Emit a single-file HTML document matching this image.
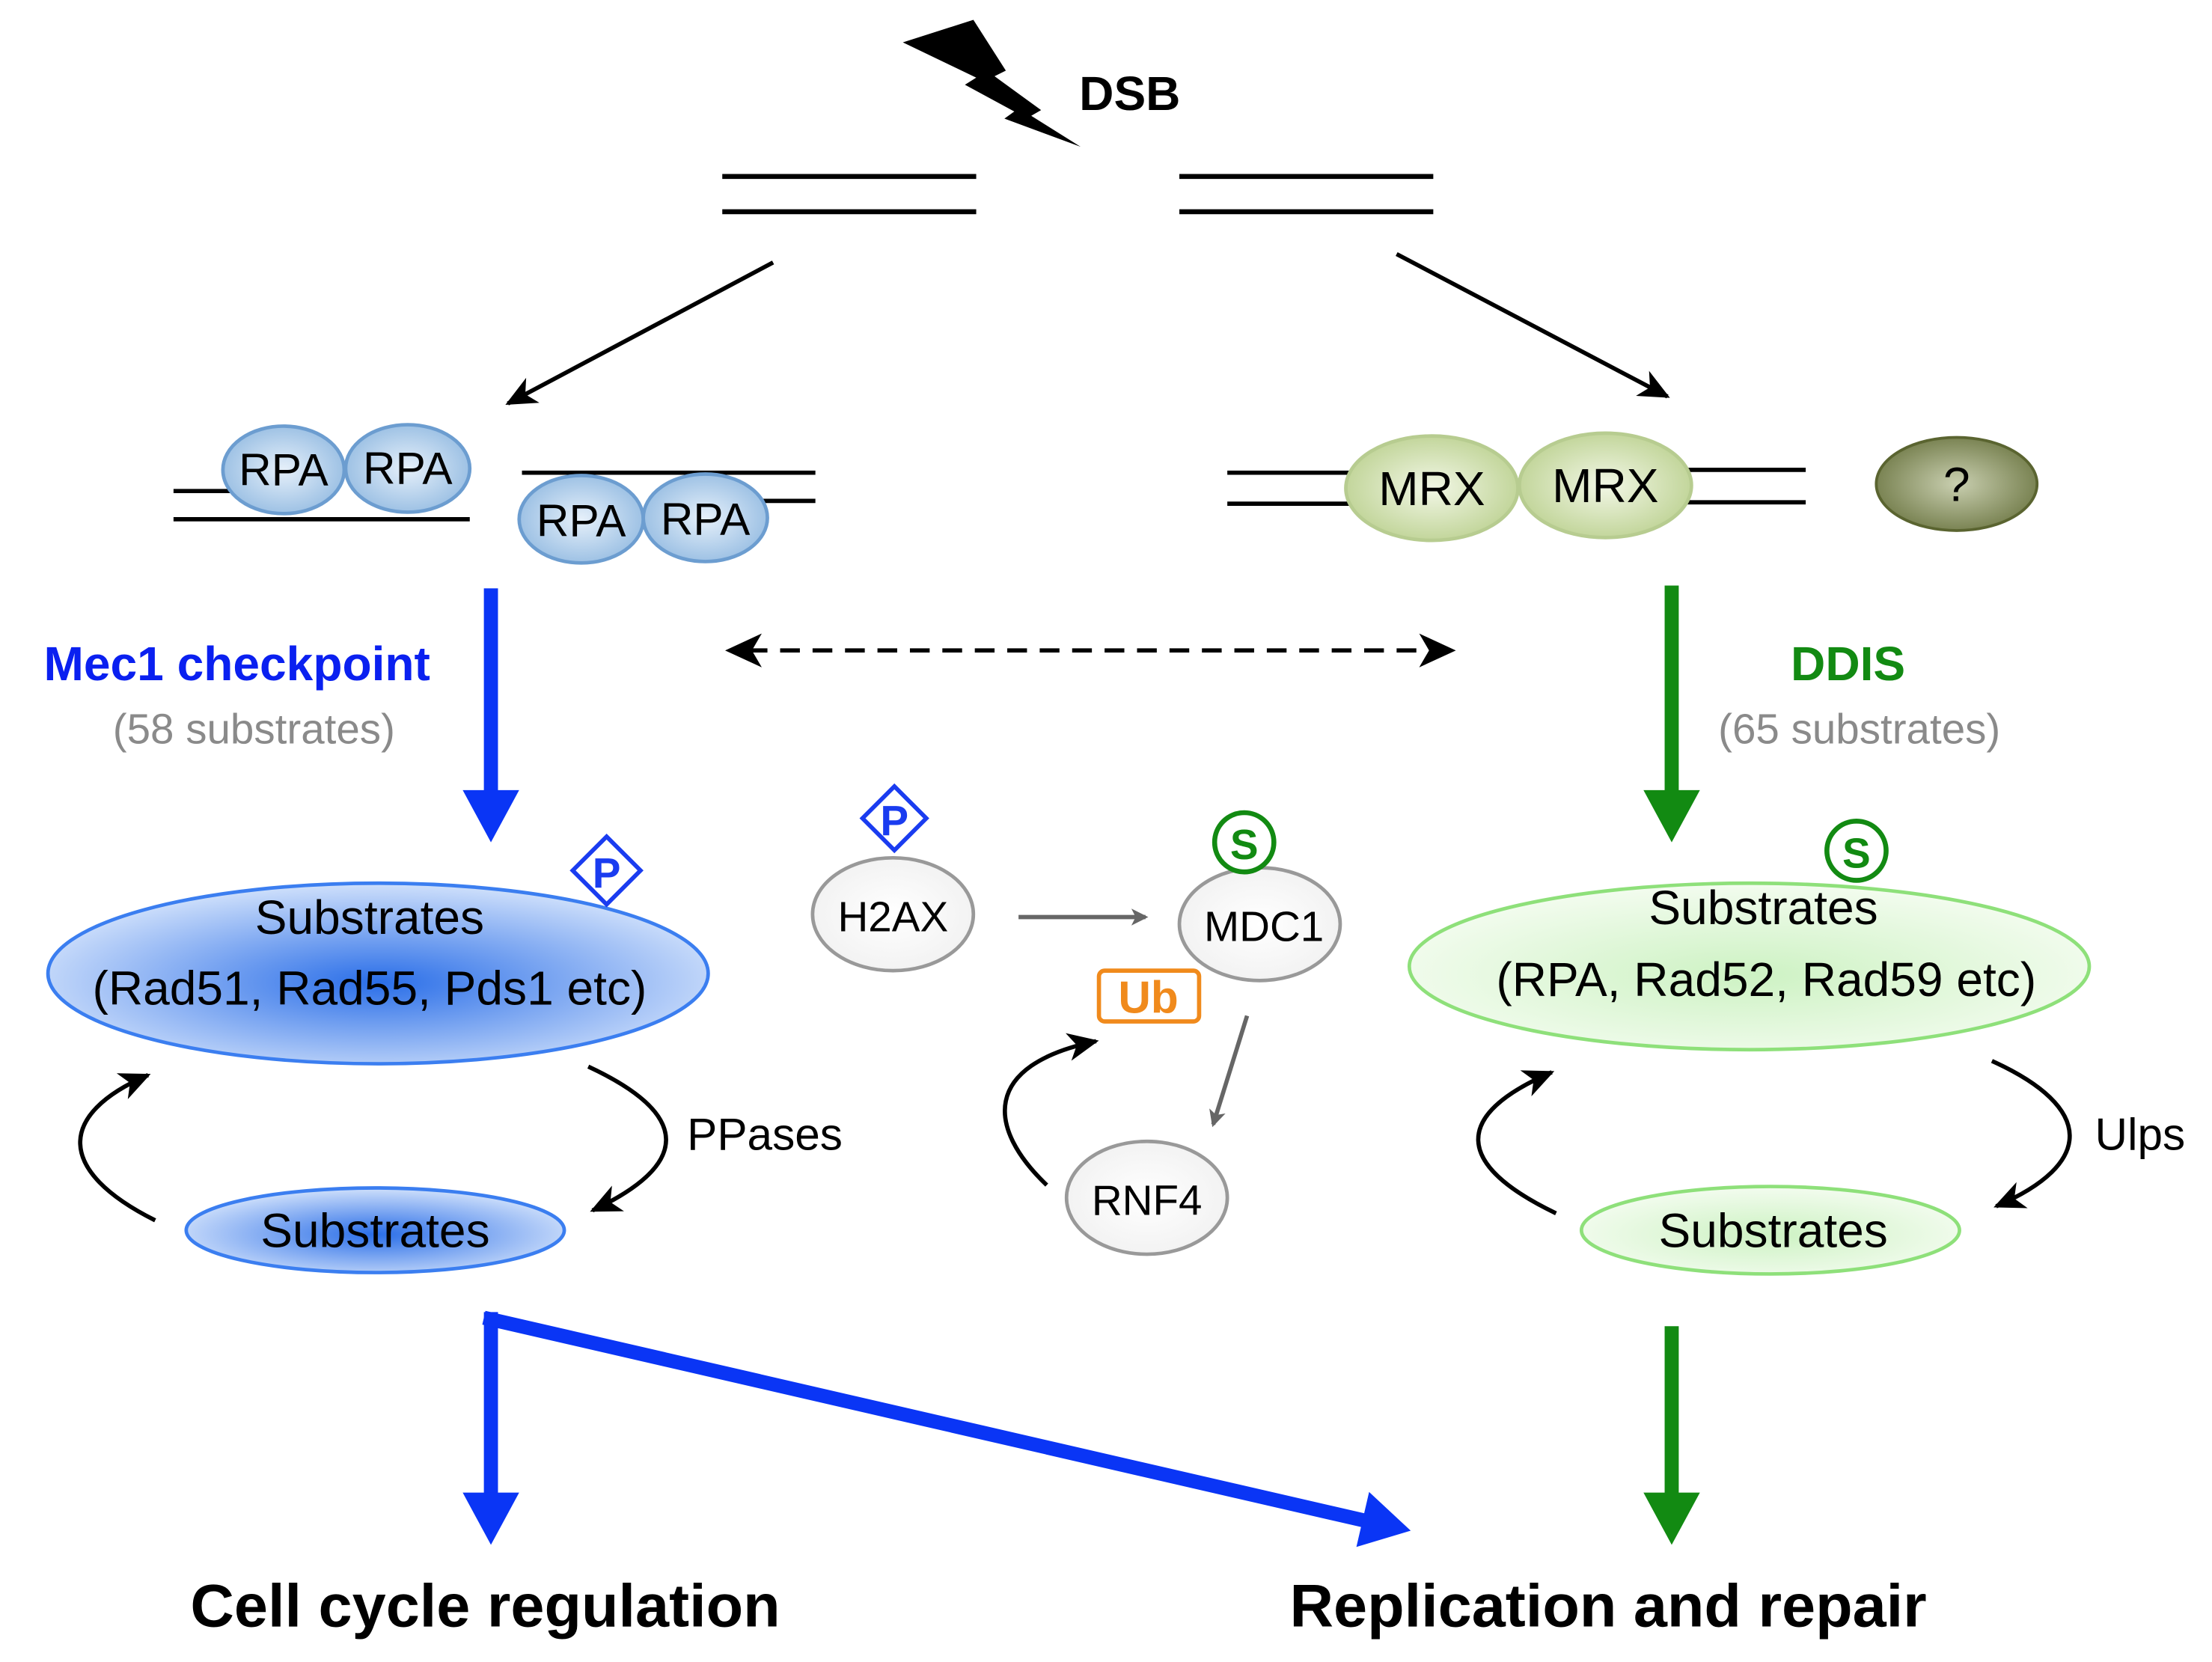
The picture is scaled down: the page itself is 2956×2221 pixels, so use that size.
<!DOCTYPE html>
<html><head><meta charset="utf-8"><style>
html,body{margin:0;padding:0;background:#fff}
svg{display:block}
text{font-family:"Liberation Sans","DejaVu Sans",sans-serif}
</style></head><body>
<svg width="2956" height="2221" viewBox="0 0 1568 1178" xmlns="http://www.w3.org/2000/svg">
<defs>
<radialGradient id="rpa" cx="50%" cy="50%" r="60%"><stop offset="0" stop-color="#e6f0fa"/><stop offset="1" stop-color="#8fb8e0"/></radialGradient>
<radialGradient id="mrx" cx="50%" cy="50%" r="60%"><stop offset="0" stop-color="#f2f7e6"/><stop offset="1" stop-color="#b9cf8c"/></radialGradient>
<radialGradient id="q" cx="50%" cy="50%" r="60%"><stop offset="0" stop-color="#c9cfb0"/><stop offset="1" stop-color="#6a7440"/></radialGradient>
<radialGradient id="blue" cx="50%" cy="55%" r="55%"><stop offset="0" stop-color="#2a6ee8"/><stop offset="1" stop-color="#cfe0fb"/></radialGradient>
<radialGradient id="green" cx="50%" cy="55%" r="55%"><stop offset="0" stop-color="#cdf2c3"/><stop offset="1" stop-color="#f3fcef"/></radialGradient>
<radialGradient id="grey" cx="50%" cy="50%" r="60%"><stop offset="0" stop-color="#ffffff"/><stop offset="1" stop-color="#f0f0f0"/></radialGradient>
<marker id="ay" markerWidth="12" markerHeight="12" refX="10" refY="6" orient="auto" markerUnits="userSpaceOnUse" viewBox="0 0 12 12"><path d="M0,0 L12,6 L0,12 L3,6z" fill="#666"/></marker>
<marker id="ac" markerWidth="24" markerHeight="24" refX="20" refY="12" orient="auto" markerUnits="userSpaceOnUse" viewBox="0 0 24 24"><path d="M0,2 L22,12 L0,22 L6,12z" fill="#000"/></marker>
</defs>

<!-- lightning -->
<path d="M640,30 L690,14 L713,50 L705,54 L738,78 L731,82 L766,104 L712,84 L719,79 L684,60 L692,55 Z" fill="#000"/>
<text x="765" y="78" font-size="34" font-weight="bold">DSB</text>
<g stroke="#000" stroke-width="3.5">
<line x1="512" y1="125" x2="692" y2="125"/><line x1="512" y1="150" x2="692" y2="150"/>
<line x1="836" y1="125" x2="1016" y2="125"/><line x1="836" y1="150" x2="1016" y2="150"/>
</g>
<line x1="548" y1="186" x2="360" y2="286" stroke="#000" stroke-width="3" marker-end="url(#ac)"/>
<line x1="990" y1="180" x2="1182" y2="281" stroke="#000" stroke-width="3" marker-end="url(#ac)"/>

<!-- left DNA -->
<g stroke="#000" stroke-width="3">
<line x1="123" y1="348" x2="165" y2="348"/><line x1="123" y1="368" x2="333" y2="368"/>
<line x1="370" y1="335" x2="578" y2="335"/><line x1="540" y1="355" x2="578" y2="355"/>
</g>
<g stroke="#6c9dd0" stroke-width="2.5" fill="url(#rpa)">
<ellipse cx="201" cy="333" rx="43" ry="31"/><ellipse cx="289" cy="332" rx="44" ry="31"/>
<ellipse cx="412" cy="368" rx="44" ry="31"/><ellipse cx="500" cy="367" rx="44" ry="31"/>
</g>
<g font-size="32" text-anchor="middle">
<text x="201" y="344">RPA</text><text x="289" y="343">RPA</text>
<text x="412" y="380">RPA</text><text x="500" y="379">RPA</text>
</g>

<!-- right DNA -->
<g stroke="#000" stroke-width="3">
<line x1="870" y1="335" x2="960" y2="335"/><line x1="870" y1="357" x2="960" y2="357"/>
<line x1="1190" y1="333" x2="1280" y2="333"/><line x1="1190" y1="356" x2="1280" y2="356"/>
</g>
<g stroke="#b7cc90" stroke-width="2.5" fill="url(#mrx)">
<ellipse cx="1015" cy="346" rx="61" ry="37"/><ellipse cx="1138" cy="344" rx="61" ry="37"/>
</g>
<ellipse cx="1387" cy="343" rx="57" ry="33" fill="url(#q)" stroke="#5a6430" stroke-width="2"/>
<g font-size="34" text-anchor="middle">
<text x="1015" y="358">MRX</text><text x="1138" y="356">MRX</text><text x="1387" y="355">?</text>
</g>

<!-- main vertical arrows -->
<line x1="348" y1="417" x2="348" y2="565" stroke="#0a35f5" stroke-width="10"/>
<polygon points="328,560 368,560 348,597" fill="#0a35f5"/>
<line x1="1185" y1="415" x2="1185" y2="565" stroke="#128a12" stroke-width="10"/>
<polygon points="1165,560 1205,560 1185,597" fill="#128a12"/>
<text x="168" y="482" font-size="34" font-weight="bold" fill="#0a20f0" text-anchor="middle">Mec1 checkpoint</text>
<text x="180" y="527" font-size="30" fill="#8a8a8a" text-anchor="middle">(58 substrates)</text>
<text x="1310" y="482" font-size="34" font-weight="bold" fill="#128a12" text-anchor="middle">DDIS</text>
<text x="1318" y="527" font-size="30" fill="#8a8a8a" text-anchor="middle">(65 substrates)</text>

<!-- dashed double arrow -->
<line x1="530" y1="461" x2="1020" y2="461" stroke="#000" stroke-width="3" stroke-dasharray="14,9"/>
<polygon points="514,461 540,449 533,461 540,473" fill="#000"/>
<polygon points="1032,461 1006,449 1013,461 1006,473" fill="#000"/>

<!-- blue substrates -->
<ellipse cx="268" cy="690" rx="234" ry="64" fill="url(#blue)" stroke="#3b7ef0" stroke-width="2.5"/>
<text x="262" y="662" font-size="34" text-anchor="middle">Substrates</text>
<text x="262" y="712" font-size="34" text-anchor="middle">(Rad51, Rad55, Pds1 etc)</text>
<rect x="413" y="600" width="34" height="34" transform="rotate(45 430 617)" fill="#fff" stroke="#1a3cf0" stroke-width="3"/>
<text x="430" y="629" font-size="30" fill="#1a3cf0" font-weight="bold" text-anchor="middle">P</text>
<ellipse cx="266" cy="872" rx="134" ry="30" fill="url(#blue)" stroke="#3b7ef0" stroke-width="2.5"/>
<text x="266" y="884" font-size="34" text-anchor="middle">Substrates</text>
<path d="M110,865 C40,830 40,790 105,762" fill="none" stroke="#000" stroke-width="3" marker-end="url(#ac)"/>
<path d="M417,756 C490,790 490,825 420,858" fill="none" stroke="#000" stroke-width="3" marker-end="url(#ac)"/>
<text x="487" y="815" font-size="32">PPases</text>

<!-- middle -->
<ellipse cx="633" cy="648" rx="57" ry="40" fill="url(#grey)" stroke="#999" stroke-width="2.5"/>
<text x="633" y="660" font-size="30" text-anchor="middle">H2AX</text>
<rect x="618" y="564" width="32" height="32" transform="rotate(45 634 580)" fill="#fff" stroke="#1a3cf0" stroke-width="3"/>
<text x="634" y="592" font-size="30" fill="#1a3cf0" font-weight="bold" text-anchor="middle">P</text>
<line x1="722" y1="650" x2="812" y2="650" stroke="#666" stroke-width="3" marker-end="url(#ay)"/>
<ellipse cx="893" cy="655" rx="57" ry="40" fill="url(#grey)" stroke="#999" stroke-width="2.5"/>
<text x="896" y="667" font-size="30" text-anchor="middle">MDC1</text>
<circle cx="882" cy="597" r="21" fill="#fff" stroke="#128a12" stroke-width="3.5"/>
<text x="882" y="609" font-size="30" fill="#128a12" font-weight="bold" text-anchor="middle">S</text>
<rect x="779" y="688" width="71" height="36" rx="4" fill="#fff" stroke="#f08a1c" stroke-width="3"/>
<text x="814" y="718" font-size="32" fill="#f08a1c" font-weight="bold" text-anchor="middle">Ub</text>
<line x1="884" y1="720" x2="860" y2="797" stroke="#666" stroke-width="3" marker-end="url(#ay)"/>
<ellipse cx="813" cy="849" rx="57" ry="40" fill="url(#grey)" stroke="#999" stroke-width="2.5"/>
<text x="813" y="861" font-size="30" text-anchor="middle">RNF4</text>
<path d="M742,840 C700,800 695,755 777,738" fill="none" stroke="#000" stroke-width="3" marker-end="url(#ac)"/>

<!-- green substrates -->
<ellipse cx="1240" cy="685" rx="241" ry="59" fill="url(#green)" stroke="#8ee07a" stroke-width="2.5"/>
<text x="1250" y="655" font-size="34" text-anchor="middle">Substrates</text>
<text x="1252" y="706" font-size="34" text-anchor="middle">(RPA, Rad52, Rad59 etc)</text>
<circle cx="1316" cy="603" r="21" fill="#fff" stroke="#128a12" stroke-width="3.5"/>
<text x="1316" y="615" font-size="30" fill="#128a12" font-weight="bold" text-anchor="middle">S</text>
<ellipse cx="1255" cy="872" rx="134" ry="31" fill="url(#green)" stroke="#8ee07a" stroke-width="2.5"/>
<text x="1257" y="884" font-size="34" text-anchor="middle">Substrates</text>
<path d="M1103,860 C1030,825 1030,790 1100,760" fill="none" stroke="#000" stroke-width="3" marker-end="url(#ac)"/>
<path d="M1412,752 C1485,785 1485,825 1415,855" fill="none" stroke="#000" stroke-width="3" marker-end="url(#ac)"/>
<text x="1485" y="815" font-size="32">Ulps</text>

<!-- bottom -->
<line x1="348" y1="930" x2="348" y2="1062" stroke="#0a35f5" stroke-width="10"/>
<polygon points="328,1058 368,1058 348,1095" fill="#0a35f5"/>
<line x1="343" y1="934" x2="968" y2="1078" stroke="#0a35f5" stroke-width="10"/>
<polygon points="961.5,1096.5 970.5,1057.5 1000,1085" fill="#0a35f5"/>
<line x1="1185" y1="940" x2="1185" y2="1062" stroke="#128a12" stroke-width="10"/>
<polygon points="1165,1058 1205,1058 1185,1095" fill="#128a12"/>
<text x="344" y="1153" font-size="43" font-weight="bold" text-anchor="middle">Cell cycle regulation</text>
<text x="1140" y="1153" font-size="43" font-weight="bold" text-anchor="middle">Replication and repair</text>
</svg>
</body></html>
